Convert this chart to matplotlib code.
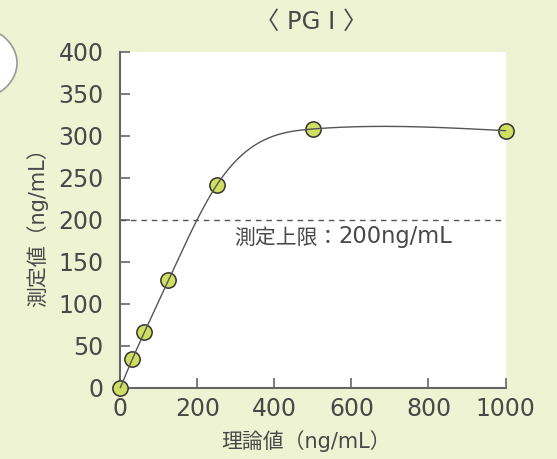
import numpy as np
import matplotlib
matplotlib.use("Agg")
import matplotlib.pyplot as plt
from matplotlib.patches import Ellipse

plt.rcParams['font.family'] = ['DejaVu Sans', 'Noto Sans CJK JP']

# Theoretical vs. measured concentration (ng/mL)
theoretical = [0, 31.25, 62.5, 125, 250, 500, 1000]
measured = [0, 34, 66, 128, 241, 308, 306]
upper_limit = 200
x_ticks = [0, 200, 400, 600, 800, 1000]
y_ticks = [0, 50, 100, 150, 200, 250, 300, 350, 400]

title = "〈 PG I 〉"
x_label = "理論値（ng/mL）"
y_label = "測定値（ng/mL）"
limit_label_head = "測定上限："
limit_label_value = "200ng/mL"

BG = "#EEF4D3"
TXT = "#484848"
AX = "#666666"
FONTS = ['DejaVu Sans', 'Noto Sans CJK JP']


def natural_spline(x, y, xs):
    x = np.asarray(x, float)
    y = np.asarray(y, float)
    n = len(x)
    h = np.diff(x)
    A = np.zeros((n, n))
    b = np.zeros(n)
    A[0, 0] = A[-1, -1] = 1
    for i in range(1, n - 1):
        A[i, i - 1] = h[i - 1]
        A[i, i] = 2 * (h[i - 1] + h[i])
        A[i, i + 1] = h[i]
        b[i] = 6 * ((y[i + 1] - y[i]) / h[i] - (y[i] - y[i - 1]) / h[i - 1])
    m = np.linalg.solve(A, b)
    idx = np.clip(np.searchsorted(x, xs) - 1, 0, n - 2)
    x0, x1 = x[idx], x[idx + 1]
    hh = x1 - x0
    t0, t1 = x1 - xs, xs - x0
    return (m[idx] * t0**3 / (6 * hh) + m[idx + 1] * t1**3 / (6 * hh)
            + (y[idx] / hh - m[idx] * hh / 6) * t0
            + (y[idx + 1] / hh - m[idx + 1] * hh / 6) * t1)


fig = plt.figure(figsize=(5.57, 4.59), dpi=100, facecolor=BG)
ax = fig.add_axes([120.3 / 557, (459 - 387.7) / 459, (505.5 - 120.3) / 557, (387.7 - 51.7) / 459])
ax.set_facecolor("white")

# decorative rounded badge at the upper left
fig.patches.append(Ellipse((-28 / 557, 1 - 63 / 459), 90 / 557, 74 / 459,
                           transform=fig.transFigure, facecolor="white",
                           edgecolor="#999999", linewidth=1.2))

xs = np.linspace(0, 1000, 600)
ax.plot(xs, natural_spline(theoretical, measured, xs), color="#555555", lw=1.0, zorder=4,
        clip_on=False)
ax.plot(theoretical, measured, "o", ms=11, mfc="#D0DE62", mec="#333333", mew=1.1,
        zorder=3, clip_on=False)

ax.axhline(upper_limit, color="#555555", lw=1.0, dashes=(4, 3.5), zorder=2)
head = ax.text(296, 171, limit_label_head, fontsize=15, color=TXT, ha="left",
               va="baseline", family=FONTS)
ax.annotate(limit_label_value, xy=(1, 0), xycoords=head, xytext=(0, 0),
            textcoords="offset points", fontsize=16.3, color=TXT, ha="left",
            va="bottom", family=FONTS)

ax.set_xlim(0, 1000)
ax.set_ylim(0, 400)
ax.set_xticks(x_ticks)
ax.set_yticks(y_ticks)
ax.tick_params(direction="in", length=7, width=1.2, color=AX, labelsize=17,
               labelcolor=TXT)
ax.tick_params(axis="y", pad=12)
ax.tick_params(axis="x", pad=7)
for s in ("top", "right"):
    ax.spines[s].set_visible(False)
for s in ("left", "bottom"):
    ax.spines[s].set_color(AX)
    ax.spines[s].set_linewidth(1.5)

fig.text(311 / 557, 1 - 22 / 459, title, fontsize=17.5, color=TXT, ha="center", va="center",
         family=FONTS)
fig.text(306 / 557, 1 - 441 / 459, x_label, fontsize=15, color=TXT, ha="center", va="center",
         family=FONTS)
fig.text(37 / 557, 1 - 222 / 459, y_label, fontsize=15, color=TXT, ha="center", va="center",
         rotation=90, family=FONTS)

fig.savefig("out.png", dpi=100, facecolor=BG)
